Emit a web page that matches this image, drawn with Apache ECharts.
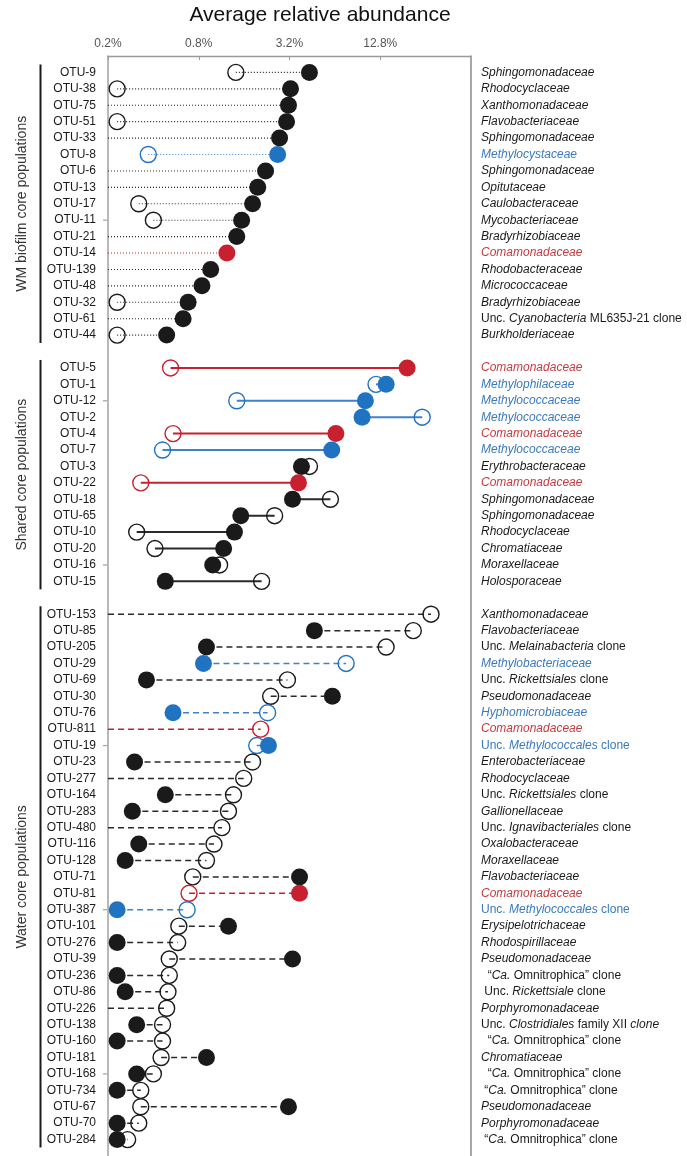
<!DOCTYPE html>
<html><head><meta charset="utf-8">
<script src="https://cdn.jsdelivr.net/npm/echarts@6/dist/echarts.min.js"></script>
<style>html,body{margin:0;padding:0;background:#fff}#c{width:687px;height:1156px}</style>
</head><body><div id="c"></div>
<script>
const tickLabels = [0.2, 0.8, 3.2, 12.8];

// WM biofilm core populations
const wmOtu = ['OTU-9','OTU-38','OTU-75','OTU-51','OTU-33','OTU-8','OTU-6','OTU-13','OTU-17','OTU-11','OTU-21','OTU-14','OTU-139','OTU-48','OTU-32','OTU-61','OTU-44'];
const wmFilled = [4.34,3.25,3.15,3.06,2.75,2.67,2.22,1.97,1.82,1.54,1.43,1.23,0.96,0.84,0.68,0.63,0.49];
const wmOpen = [1.41,0.23,null,0.23,null,0.37,null,null,0.32,0.40,null,null,null,null,0.23,null,0.23];
const wmColor = ['k','k','k','k','k','b','k','k','k','k','k','r','k','k','k','k','k'];
const wmFamily = ['*Sphingomonadaceae*','*Rhodocyclaceae*','*Xanthomonadaceae*','*Flavobacteriaceae*','*Sphingomonadaceae*','*Methylocystaceae*','*Sphingomonadaceae*','*Opitutaceae*','*Caulobacteraceae*','*Mycobacteriaceae*','*Bradyrhizobiaceae*','*Comamonadaceae*','*Rhodobacteraceae*','*Micrococcaceae*','*Bradyrhizobiaceae*','Unc. *Cyanobacteria* ML635J-21 clone','*Burkholderiaceae*'];

// Shared core populations
const shOtu = ['OTU-5','OTU-1','OTU-12','OTU-2','OTU-4','OTU-7','OTU-3','OTU-22','OTU-18','OTU-65','OTU-10','OTU-20','OTU-16','OTU-15'];
const shFilled = [19.3,14.0,10.2,9.7,6.5,6.1,3.84,3.67,3.35,1.52,1.38,1.17,0.99,0.48];
const shOpen = [0.52,12.0,1.43,24.3,0.54,0.46,4.34,0.33,5.98,2.55,0.31,0.41,1.10,2.09];
const shColor = ['r','b','b','b','r','b','k','r','k','k','k','k','k','k'];
const shFamily = ['*Comamonadaceae*','*Methylophilaceae*','*Methylococcaceae*','*Methylococcaceae*','*Comamonadaceae*','*Methylococcaceae*','*Erythrobacteraceae*','*Comamonadaceae*','*Sphingomonadaceae*','*Sphingomonadaceae*','*Rhodocyclaceae*','*Chromatiaceae*','*Moraxellaceae*','*Holosporaceae*'];

// Water core populations
const waOtu = ['OTU-153','OTU-85','OTU-205','OTU-29','OTU-69','OTU-30','OTU-76','OTU-811','OTU-19','OTU-23','OTU-277','OTU-164','OTU-283','OTU-480','OTU-116','OTU-128','OTU-71','OTU-81','OTU-387','OTU-101','OTU-276','OTU-39','OTU-236','OTU-86','OTU-226','OTU-138','OTU-160','OTU-181','OTU-168','OTU-734','OTU-67','OTU-70','OTU-284'];
const waFilled = [null,4.68,0.90,0.86,0.36,6.16,0.54,null,2.32,0.30,null,0.48,0.29,null,0.32,0.26,3.73,3.73,0.23,1.26,0.23,3.35,0.23,0.26,null,0.31,0.23,0.90,0.31,0.23,3.15,0.23,0.23];
const waOpen = [27.8,21.2,14.0,7.6,3.10,2.40,2.29,2.06,1.94,1.82,1.59,1.36,1.26,1.14,1.01,0.90,0.73,0.69,0.67,0.59,0.58,0.51,0.51,0.50,0.49,0.46,0.46,0.45,0.40,0.33,0.33,0.32,0.27];
const waColor = ['k','k','k','b','k','k','b','r','b','k','k','k','k','k','k','k','k','r','b','k','k','k','k','k','k','k','k','k','k','k','k','k','k'];
const waFamily = ['*Xanthomonadaceae*','*Flavobacteriaceae*','Unc. *Melainabacteria* clone','*Methylobacteriaceae*','Unc. *Rickettsiales* clone','*Pseudomonadaceae*','*Hyphomicrobiaceae*','*Comamonadaceae*','Unc. *Methylococcales* clone','*Enterobacteriaceae*','*Rhodocyclaceae*','Unc. *Rickettsiales* clone','*Gallionellaceae*','Unc. *Ignavibacteriales* clone','*Oxalobacteraceae*','*Moraxellaceae*','*Flavobacteriaceae*','*Comamonadaceae*','Unc. *Methylococcales* clone','*Erysipelotrichaceae*','*Rhodospirillaceae*','*Pseudomonadaceae*','  “*Ca.* Omnitrophica” clone',' Unc. *Rickettsiale* clone','*Porphyromonadaceae*','Unc. *Clostridiales* family XII *clone*','  “*Ca.* Omnitrophica” clone','*Chromatiaceae*','  “*Ca.* Omnitrophica” clone',' “*Ca.* Omnitrophica” clone','*Pseudomonadaceae*','*Porphyromonadaceae*',' “*Ca.* Omnitrophica” clone'];

const groupNames = ['WM biofilm core populations','Shared core populations','Water core populations'];
// rows that carry a small tick on the left axis in the original
const leftTickRows = ['OTU-11','OTU-12','OTU-16','OTU-19','OTU-387','OTU-168'];

// ---------- build ----------
const FONT = '"Liberation Sans", Arial, Helvetica, sans-serif';
const markColor = {k:'#1a1a1a', b:'#1f73c0', r:'#c8202e'};
const lineColor = {k:'#2a2a2a', b:'#3f82c8', r:'#c8202e'};
const textColor = {k:'#1a1a1a', b:'#3a79bd', r:'#c33a40'};
const lineStyles = [
  {w:1.1, dash:[1,2]},   // WM dotted
  {w:2,   dash:null},    // shared solid
  {w:1.5, dash:[6,4]}    // water dashed
];
const groups = [
  {otu:wmOtu, filled:wmFilled, open:wmOpen, color:wmColor, fam:wmFamily},
  {otu:shOtu, filled:shFilled, open:shOpen, color:shColor, fam:shFamily},
  {otu:waOtu, filled:waFilled, open:waOpen, color:waColor, fam:waFamily}
];
const rowNames = [''], rowFam = [''], rowCol = ['k'];
const segs = [], filledPts = [], openPts = [], spans = [];
const colKeys = ['k','b','r'];
groups.forEach((g, gi) => {
  if (gi > 0) { rowNames.push(''); rowFam.push(''); rowCol.push('k'); }
  const first = rowNames.length;
  g.otu.forEach((name, i) => {
    const idx = rowNames.length;
    rowNames.push(name); rowFam.push(g.fam[i]); rowCol.push(g.color[i]);
    const f = g.filled[i], o = g.open[i], c = g.color[i];
    const a = (f == null) ? 0.2 : f;
    const b = (o == null) ? 0.2 : o;
    segs.push([Math.min(a,b), Math.max(a,b), idx, colKeys.indexOf(c), gi]);
    if (f != null) filledPts.push({value:[f, idx], itemStyle:{color:markColor[c]}});
    if (o != null) openPts.push({value:[o, idx], itemStyle:{borderColor:markColor[c]}});
  });
  spans.push([first, rowNames.length - 1]);
});
rowNames.push(''); rowFam.push(''); rowCol.push('k');

function richLabel(str, c) {
  return str.split('*').map((p, i) => p ? '{' + (i % 2 ? 'i' : 'n') + c + '|' + p + '}' : '').join('');
}
const rich = {};
['k','b','r'].forEach(c => {
  rich['n'+c] = {color:textColor[c], fontSize:12, fontFamily:FONT};
  rich['i'+c] = {color:textColor[c], fontSize:12, fontFamily:FONT, fontStyle:'italic'};
});

const chart = echarts.init(document.getElementById('c'), null, {renderer:'canvas'});
chart.setOption({
  animation:false,
  backgroundColor:'#fff',
  title:{text:'Average relative abundance', left:320, top:5, padding:0, textAlign:'center',
    textStyle:{fontSize:21, fontWeight:'normal', color:'#111', fontFamily:FONT}},
  grid:{left:108, right:216, top:56, bottom:-3.5, containLabel:false},
  xAxis:{type:'log', logBase:2, min:0.2, max:51.2, position:'top',
    axisLine:{show:true, lineStyle:{color:'#9a9a9a', width:1.3}},
    axisTick:{show:true, inside:true, length:4, customValues:tickLabels, lineStyle:{color:'#9a9a9a'}},
    axisLabel:{customValues:tickLabels, formatter:v => (+(+v).toFixed(1)) + '%', color:'#555', fontSize:12, margin:6, fontFamily:FONT},
    splitLine:{show:false}, minorTick:{show:false}, minorSplitLine:{show:false}},
  yAxis:[
    {type:'category', data:rowNames, inverse:true, boundaryGap:false,
      axisLine:{show:true, onZero:false, lineStyle:{color:'#a0a0a0', width:1.5}},
      axisTick:{show:false}, splitLine:{show:false},
      axisLabel:{interval:0, margin:12, fontSize:12, color:'#1a1a1a', fontFamily:FONT}},
    {type:'category', data:rowFam, inverse:true, boundaryGap:false, position:'right',
      axisLine:{show:true, onZero:false, lineStyle:{color:'#8a8a8a', width:1.5}},
      axisTick:{show:false}, splitLine:{show:false},
      axisLabel:{interval:0, margin:10, align:'left', formatter:(v, i) => v ? richLabel(v, rowCol[i]) : '', rich:rich}}
  ],
  series:[
    {type:'custom', silent:true, z:1, yAxisIndex:0, encode:{x:[0,1], y:2}, data:segs,
      renderItem:(params, api) => {
        const p1 = api.coord([api.value(0), api.value(2)]);
        const p2 = api.coord([api.value(1), api.value(2)]);
        const st = lineStyles[api.value(4)];
        return {type:'line', shape:{x1:p1[0], y1:p1[1], x2:p2[0], y2:p2[1]},
          style:{stroke:lineColor[colKeys[api.value(3)]], lineWidth:st.w, lineDash:st.dash, fill:null}};
      }},
    {type:'scatter', silent:true, z:2, yAxisIndex:0, symbol:'circle', symbolSize:16,
      itemStyle:{color:'rgba(0,0,0,0)', borderWidth:1.4, opacity:1}, data:openPts},
    {type:'scatter', silent:true, z:3, yAxisIndex:0, symbol:'circle', symbolSize:17,
      itemStyle:{opacity:1}, data:filledPts}
  ]
});

// group brackets, labels and small left ticks, positioned through the axis scale
const gfx = [];
spans.forEach((s, gi) => {
  const y1 = chart.convertToPixel({gridIndex:0}, [0.2, s[0]])[1] - 8;
  const y2 = chart.convertToPixel({gridIndex:0}, [0.2, s[1]])[1] + 8;
  gfx.push({type:'line', shape:{x1:40.5, y1:y1, x2:40.5, y2:y2}, style:{stroke:'#1a1a1a', lineWidth:2}, silent:true});
  gfx.push({type:'text', x:22, y:(y1 + y2) / 2, rotation:Math.PI / 2, silent:true,
    style:{text:groupNames[gi], fill:'#333', font:'14px ' + FONT, textAlign:'center', textVerticalAlign:'middle', align:'center', verticalAlign:'middle'}});
});
leftTickRows.forEach(name => {
  const p = chart.convertToPixel({gridIndex:0}, [0.2, rowNames.indexOf(name)]);
  gfx.push({type:'line', shape:{x1:p[0] - 5, y1:p[1], x2:p[0] - 1, y2:p[1]}, style:{stroke:'#a0a0a0', lineWidth:1.2}, silent:true});
});
chart.setOption({graphic:gfx});
</script></body></html>
